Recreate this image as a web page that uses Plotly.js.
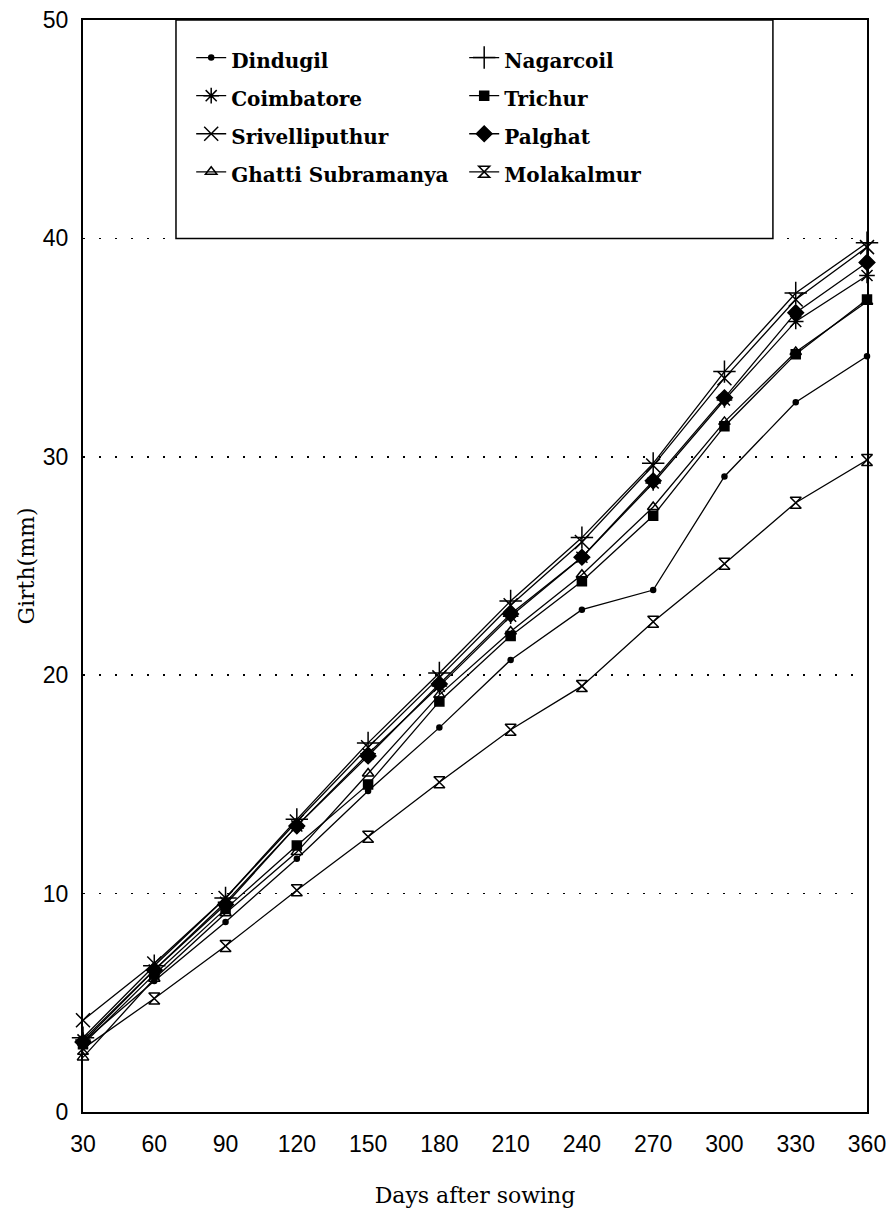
<!DOCTYPE html>
<html>
<head>
<meta charset="utf-8">
<script src="https://cdn.plot.ly/plotly-3.0.1.min.js"></script>
<style>
  html, body { margin: 0; padding: 0; background: #fff; }
  #chart { width: 896px; height: 1214px; }
</style>
</head>
<body>
<div id="chart"></div>
<script>
// Days after sowing
const days = [30, 60, 90, 120, 150, 180, 210, 240, 270, 300, 330, 360];

// Girth (mm) per location
const dindugil       = [3.2, 6.0, 8.7, 11.6, 14.7, 17.6, 20.7, 23.0, 23.9, 29.1, 32.5, 34.6];
const nagarcoil      = [3.4, 6.7, 9.8, 13.4, 16.9, 20.1, 23.4, 26.3, 29.7, 33.9, 37.5, 39.8];
const coimbatore     = [3.3, 6.5, 9.6, 13.1, 16.4, 19.5, 22.7, 25.4, 28.8, 32.6, 36.2, 38.3];
const trichur        = [3.1, 6.3, 9.3, 12.2, 15.0, 18.8, 21.8, 24.3, 27.3, 31.4, 34.7, 37.2];
const srivelliputhur = [4.2, 6.8, 9.8, 13.3, 16.7, 19.9, 23.2, 26.1, 29.6, 33.6, 37.2, 39.6];
const palghat        = [3.2, 6.5, 9.5, 13.1, 16.3, 19.6, 22.8, 25.4, 28.9, 32.7, 36.6, 38.9];
const ghatti         = [2.5, 6.1, 9.1, 11.9, 15.5, 19.1, 22.0, 24.6, 27.7, 31.6, 34.8, 37.1];
const molakalmur     = [2.9, 5.2, 7.6, 10.15, 12.6, 15.1, 17.5, 19.5, 22.45, 25.1, 27.9, 29.85];

const names = ['Dindugil', 'Nagarcoil', 'Coimbatore', 'Trichur',
               'Srivelliputhur', 'Palghat', 'Ghatti Subramanya', 'Molakalmur'];
const series = [dindugil, nagarcoil, coimbatore, trichur,
                srivelliputhur, palghat, ghatti, molakalmur];
const symbols = ['circle', 'cross-thin-open', 'asterisk-open', 'square',
                 'x-thin-open', 'diamond', 'triangle-up-open', 'hourglass-open'];
const sizes = [5, 16, 13, 9, 14, 12, 10, 11];

const traces = series.map((ys, i) => ({
  type: 'scatter',
  mode: 'lines+markers',
  name: '<span style="font-size:20px">' + names[i] + '</span>',
  x: days,
  y: ys,
  cliponaxis: false,
  line: { color: '#000', width: 1.3 },
  marker: {
    symbol: symbols[i],
    size: sizes[i],
    color: '#000',
    line: { color: '#000', width: 1.5 }
  }
}));

const layout = {
  width: 896,
  height: 1214,
  margin: { l: 83, r: 29, t: 20, b: 102 },
  paper_bgcolor: '#fff',
  plot_bgcolor: '#fff',
  showlegend: true,
  xaxis: {
    range: [30, 360],
    tickvals: days,
    ticks: '',
    showgrid: false,
    zeroline: false,
    showline: true,
    mirror: true,
    linecolor: '#000',
    linewidth: 2,
    ticklabelstandoff: 10,
    tickfont: { family: 'Liberation Sans, Arial, sans-serif', size: 23, color: '#000' },
    title: {
      text: 'Days after sowing',
      standoff: 32,
      font: { family: 'DejaVu Serif, serif', size: 22, color: '#000' }
    }
  },
  yaxis: {
    range: [0, 50],
    dtick: 10,
    ticks: '',
    showgrid: true,
    gridcolor: '#000',
    gridwidth: 1.8,
    griddash: '2px,14px',
    zeroline: false,
    showline: true,
    mirror: true,
    linecolor: '#000',
    linewidth: 2,
    ticklabelstandoff: 8,
    tickfont: { family: 'Liberation Sans, Arial, sans-serif', size: 23, color: '#000' },
    title: {
      text: 'Girth(mm)',
      standoff: 2,
      font: { family: 'DejaVu Serif, serif', size: 22, color: '#000' }
    }
  },
  shapes: [{
    type: 'rect',
    xref: 'paper', yref: 'paper',
    x0: 0.1186, x1: 0.880, y0: 0.800, y1: 1.0,
    layer: 'above',
    fillcolor: '#fff',
    line: { color: '#000', width: 1.5 }
  }],
  legend: {
    orientation: 'h',
    x: 0.138, xanchor: 'left',
    y: 0.913, yanchor: 'middle',
    bgcolor: 'rgba(0,0,0,0)',
    borderwidth: 0,
    entrywidth: 228,
    entrywidthmode: 'pixels',
    traceorder: 'normal',
    font: { family: 'DejaVu Serif, serif', size: 27, weight: 'bold', color: '#000' }
  }
};

Plotly.newPlot('chart', traces, layout, { displayModeBar: false, staticPlot: true });
</script>
</body>
</html>
